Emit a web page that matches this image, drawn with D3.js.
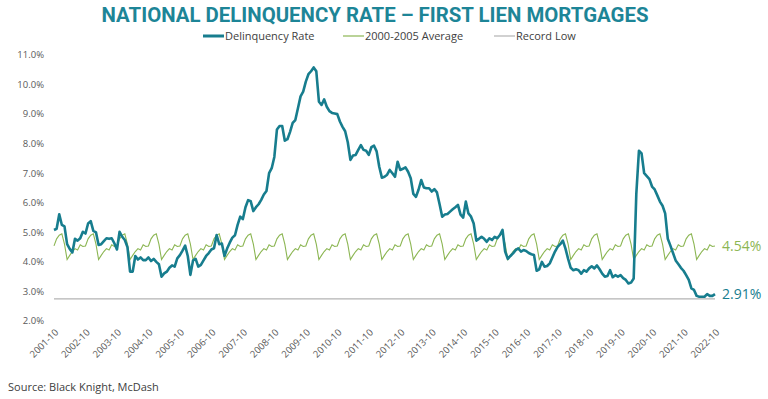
<!DOCTYPE html>
<html>
<head>
<meta charset="utf-8">
<script src="https://cdn.jsdelivr.net/npm/d3@7"></script>
<style>
  body { margin: 0; background: #fff; }
  text { font-family: "Open Sans", "Liberation Sans", sans-serif; }
</style>
</head>
<body>
<div id="chart"></div>
<script>
// monthly national delinquency rate, 2001-10 .. 2022-10 (%)
var delinquency = [
  5.08, 5.12, 5.61, 5.25, 5.20, 4.60, 4.44, 4.32, 4.78, 4.72, 4.80, 5.02,
  4.96, 5.30, 5.38, 5.05, 5.00, 4.57, 4.60, 4.70, 4.80, 4.78, 4.80, 4.63,
  4.42, 5.02, 4.85, 4.74, 4.50, 3.67, 3.67, 4.20, 4.08, 4.15, 4.06, 4.06,
  4.15, 4.03, 4.10, 4.00, 3.92, 3.50, 3.61, 3.67, 3.80, 3.88, 3.84, 4.12,
  4.23, 4.38, 4.55, 4.20, 3.56, 4.05, 4.10, 3.84, 3.90, 4.05, 4.20, 4.30,
  4.42, 4.46, 4.91, 4.60, 4.62, 4.20, 4.45, 4.65, 4.82, 4.90, 5.25, 5.53,
  5.45, 5.85, 6.09, 6.05, 5.72, 5.85, 5.95, 6.10, 6.28, 6.40, 7.00, 7.17,
  7.55, 8.48, 8.60, 8.60, 8.10, 8.15, 8.40, 8.70, 8.80, 9.20, 9.60, 9.76,
  10.10, 10.35, 10.45, 10.58, 10.45, 9.42, 9.31, 9.50, 9.25, 9.10, 9.04, 9.02,
  9.00, 8.75, 8.57, 8.42, 8.05, 7.45, 7.60, 7.62, 7.79, 7.95, 7.79, 7.76,
  7.62, 7.88, 7.93, 7.74, 7.22, 6.85, 6.88, 6.95, 7.11, 7.00, 6.88, 7.39,
  7.11, 7.15, 7.20, 7.05, 6.83, 6.30, 6.20, 6.45, 6.77, 6.52, 6.49, 6.49,
  6.38, 6.46, 6.35, 5.95, 5.53, 5.60, 5.62, 5.70, 5.78, 5.85, 5.93, 5.60,
  5.50, 6.04, 5.64, 5.53, 5.30, 4.72, 4.78, 4.85, 4.78, 4.68, 4.80, 4.74,
  4.85, 4.80, 4.91, 5.08, 4.35, 4.10, 4.20, 4.29, 4.40, 4.46, 4.35, 4.40,
  4.37, 4.30, 4.26, 4.23, 3.70, 3.75, 4.00, 3.84, 3.86, 3.95, 4.15, 4.35,
  4.51, 4.60, 4.72, 4.45, 4.10, 3.80, 3.72, 3.75, 3.72, 3.60, 3.72, 3.67,
  3.78, 3.85, 3.78, 3.88, 3.75, 3.60, 3.50, 3.52, 3.72, 3.48, 3.55, 3.50,
  3.55, 3.45, 3.39, 3.27, 3.30, 3.44, 6.30, 7.76, 7.67, 7.00, 6.90, 6.80,
  6.55, 6.45, 6.25, 6.04, 5.90, 5.64, 4.78, 4.55, 4.30, 4.05, 3.93, 3.80,
  3.70, 3.55, 3.39, 3.10, 3.05, 2.85, 2.82, 2.82, 2.82, 2.91, 2.85, 2.85,
  2.91
];
// 2000-2005 average by calendar month, Jan..Dec (%)
var avgByMonth = [4.95, 4.60, 4.08, 4.22, 4.35, 4.45, 4.40, 4.58, 4.52, 4.54, 4.78, 4.90];
var recordLow = 2.75;
var firstMonth = 9; // October, 0-based
var yTicks = [2, 3, 4, 5, 6, 7, 8, 9, 10, 11];
var xTickLabels = ["2001-10", "2002-10", "2003-10", "2004-10", "2005-10", "2006-10",
  "2007-10", "2008-10", "2009-10", "2010-10", "2011-10", "2012-10", "2013-10",
  "2014-10", "2015-10", "2016-10", "2017-10", "2018-10", "2019-10", "2020-10",
  "2021-10", "2022-10"];

var width = 768, height = 399;
var teal = "#177d8e", green = "#8cb653", grey = "#b3b3b3", labelCol = "#595959";

var svg = d3.select("#chart").append("svg")
  .attr("width", width).attr("height", height);

var x = d3.scaleLinear().domain([0, delinquency.length - 1]).range([54, 715]);
var y = d3.scaleLinear().domain([2, 11]).range([321, 55]);

var average = delinquency.map(function(d, i) {
  return avgByMonth[(firstMonth + i) % 12];
});

// title
var title = svg.append("text")
  .attr("x", 375).attr("y", 22)
  .attr("text-anchor", "middle")
  .attr("fill", "#1d8597")
  .style("font-family", "Roboto, sans-serif")
  .style("font-weight", 700)
  .style("font-size", "21px")
  .attr("textLength", 547)
  .attr("lengthAdjust", "spacingAndGlyphs")
  .text("NATIONAL DELINQUENCY RATE \u2013 FIRST LIEN MORTGAGES");

// legend
var legend = [
  {name: "Delinquency Rate", color: teal, w: 3, x: 203},
  {name: "2000-2005 Average", color: green, w: 1.2, x: 343},
  {name: "Record Low", color: grey, w: 1.2, x: 494}
];
var lg = svg.append("g").selectAll("g").data(legend).enter().append("g")
  .attr("transform", function(d) { return "translate(" + d.x + ",36)"; });
lg.append("line").attr("x1", 0).attr("x2", 21)
  .attr("stroke", function(d) { return d.color; })
  .attr("stroke-width", function(d) { return d.w; });
lg.append("text").attr("x", 22).attr("dy", "0.35em")
  .attr("fill", "#404040").style("font-size", "11px")
  .text(function(d) { return d.name; });

// y axis labels
svg.append("g").selectAll("text").data(yTicks).enter().append("text")
  .attr("x", 44).attr("y", function(d) { return y(d); })
  .attr("dy", "0.35em").attr("text-anchor", "end")
  .attr("fill", labelCol).style("font-size", "9.5px")
  .text(function(d) { return d3.format(".1f")(d) + "%"; });

// x axis labels
svg.append("g").selectAll("text").data(xTickLabels).enter().append("text")
  .attr("transform", function(d, i) {
    return "translate(" + (x(i * 12) + 5) + ",333) rotate(-45)";
  })
  .attr("text-anchor", "end")
  .attr("fill", labelCol).style("font-size", "9.5px")
  .text(function(d) { return d; });

// record low
svg.append("line")
  .attr("x1", x(0)).attr("x2", x(delinquency.length - 1))
  .attr("y1", y(recordLow)).attr("y2", y(recordLow))
  .attr("stroke", grey).attr("stroke-width", 1.2);

var line = d3.line()
  .x(function(d, i) { return x(i); })
  .y(function(d) { return y(d); });

svg.append("path").datum(average)
  .attr("fill", "none").attr("stroke", green).attr("stroke-width", 1.1)
  .attr("d", line);

svg.append("path").datum(delinquency)
  .attr("fill", "none").attr("stroke", teal).attr("stroke-width", 2.6)
  .attr("stroke-linejoin", "round")
  .attr("d", line);

// end labels
var last = delinquency.length - 1;
svg.append("text")
  .attr("x", x(last) + 7).attr("y", y(average[last])).attr("dy", "0.35em")
  .attr("fill", green).style("font-size", "14px")
  .text(d3.format(".2f")(average[last]) + "%");
svg.append("text")
  .attr("x", x(last) + 7).attr("y", y(delinquency[last])).attr("dy", "0.35em")
  .attr("fill", teal).style("font-size", "14px")
  .text(d3.format(".2f")(delinquency[last]) + "%");

svg.append("text")
  .attr("x", 8).attr("y", 391)
  .attr("fill", "#404040").style("font-size", "11px")
  .text("Source: Black Knight, McDash");
</script>
</body>
</html>
